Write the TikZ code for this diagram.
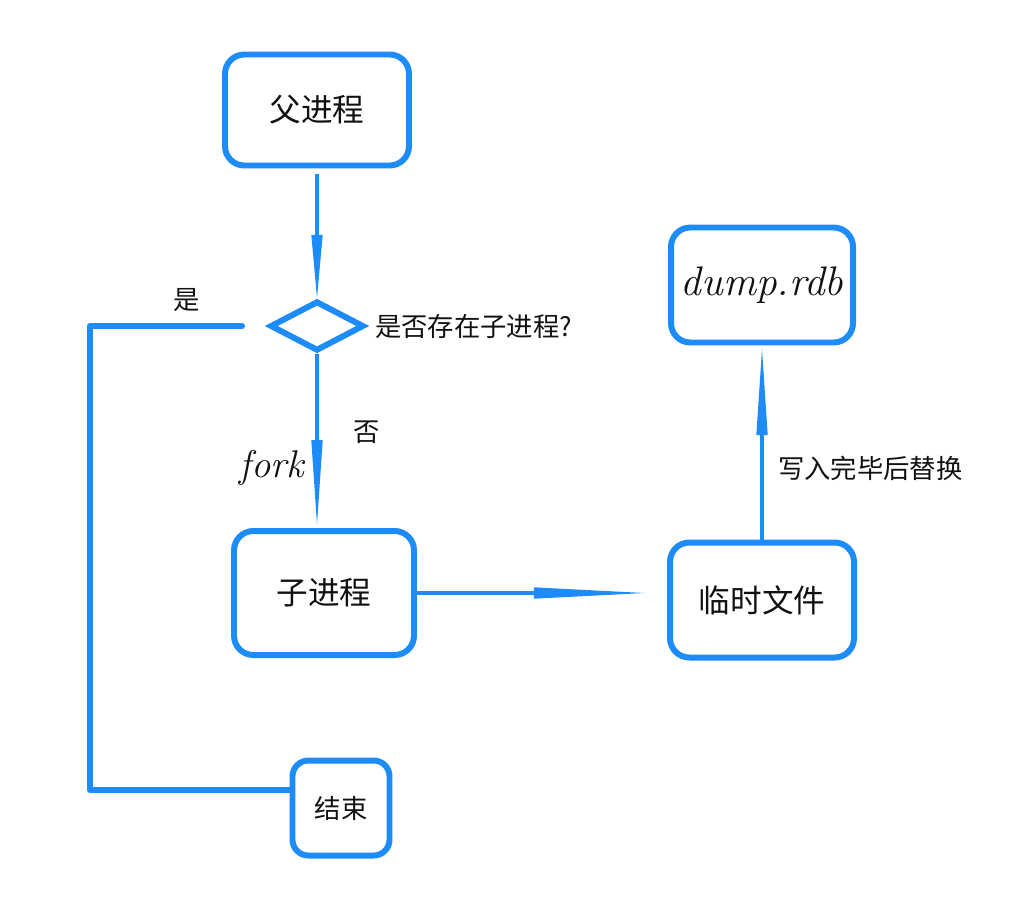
\documentclass[tikz,border=0pt]{standalone}
\usepackage{fontspec}
\usepackage{tikz}
\usetikzlibrary{arrows.meta, positioning, shapes.geometric, calc}
\newfontfamily\cjk{Noto Sans CJK SC}
\definecolor{flowBlue}{HTML}{1E8CF8}
\definecolor{textDark}{HTML}{111111}
\tikzset{
  procBox/.style={rectangle, rounded corners=11pt, draw=flowBlue, line width=3.4pt,
                  fill=white, align=center, text=textDark, inner sep=2pt,
                  font=\cjk\fontsize{18}{20}\selectfont},
  decBox/.style={diamond, draw=flowBlue, line width=3.4pt, inner sep=0pt,
                 minimum width=1.88cm, minimum height=1.0cm, shape aspect=1.88},
  flowA/.style={-{Triangle[length=#1, width=6.5pt, line width=0pt]}, flowBlue, line width=2.3pt},
  loopLine/.style={flowBlue, line width=3.4pt, line join=round, line cap=round},
  lbl/.style={text=textDark, inner sep=1pt, font=\cjk\fontsize{15}{17}\selectfont},
  fileLbl/.style={text=textDark, font=\normalfont\itshape\fontsize{23.5}{25}\selectfont},
}
\begin{document}
\begin{tikzpicture}
  \useasboundingbox (0,0) rectangle (20.36,-17.92);
  % boxes
  \node[procBox, minimum width=3.68cm, minimum height=2.22cm] (parent) at (6.34,-2.20) {父进程};
  \node[decBox] (dec) at (6.34,-6.52) {};
  \node[procBox, minimum width=3.6cm, minimum height=2.48cm] (child) at (6.48,-11.86) {子进程};
  \node[procBox, minimum width=3.68cm, minimum height=2.30cm] (temp) at (15.24,-12.00) {临时文件};
  \node[procBox, fileLbl, minimum width=3.64cm, minimum height=2.30cm] (dump) at (15.24,-5.70)
    {dump.rdb};
  \node[procBox, minimum width=1.94cm, minimum height=1.90cm, rounded corners=9pt,
        font=\cjk\fontsize{15}{17}\selectfont] (end) at (6.82,-16.16) {结束};
  % labels
  \node[lbl, right=0.12cm of dec] (ask) {是否存在子进程?};
  \node[lbl] (yes) at (3.74,-6.0) {是};
  \node[lbl] (no) at (7.34,-8.64) {否};
  \node[fileLbl, font=\normalfont\itshape\fontsize{22}{24}\selectfont] (fork) at (5.44,-9.36) {fork};
  \node[lbl, anchor=west] (swap) at (15.52,-9.36) {写入完毕后替换};
  % connectors
  \coordinate (corner) at (1.80,-15.80);
  \draw[flowA=36pt, shorten <=3pt] (parent.south) -- (dec.north);
  \draw[flowA=48pt, shorten >=2pt] (dec.south) -- (dec.south |- child.north);
  \draw[flowA=63pt, shorten >=0.45cm] (child.east) -- (child.east -| temp.west);
  \draw[flowA=49pt, shorten >=2pt] (temp.north) -- (dump.south);
  \draw[loopLine, shorten <=0.5cm] (dec.west) -| (corner) -- (corner -| end.west);
\end{tikzpicture}
\end{document}
